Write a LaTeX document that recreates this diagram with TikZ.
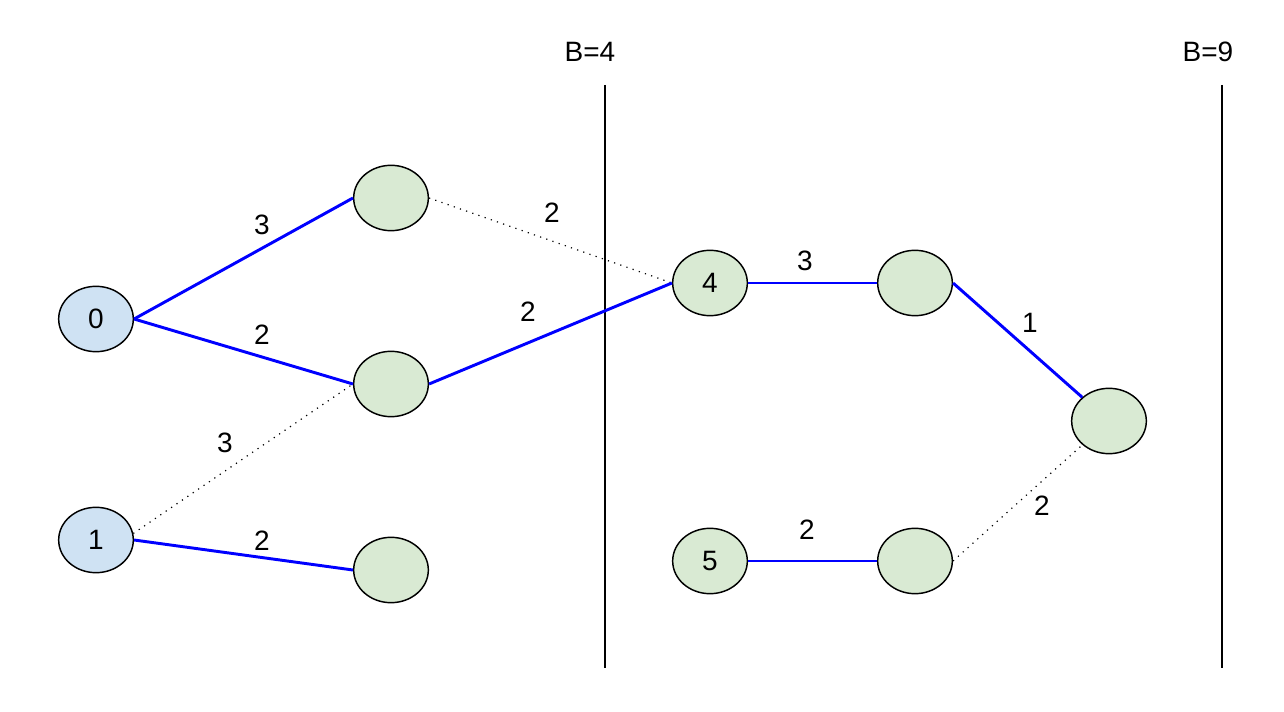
\documentclass[tikz,border=0pt]{standalone}
\usepackage{fontspec}
\setmainfont{Liberation Sans}
\usetikzlibrary{shapes.geometric}
\definecolor{nodeblue}{HTML}{CFE2F3}
\definecolor{nodegreen}{HTML}{D9EAD3}
\definecolor{edgeblue}{HTML}{0000FF}
\begin{document}
\begin{tikzpicture}[x=0.75pt,y=-0.75pt,
  vert/.style={ellipse,draw=black,line width=1.1pt,minimum width=56pt,minimum height=49pt,inner sep=0pt,font=\fontsize{21}{25}\selectfont},
  src/.style={vert,fill=nodeblue},
  gvert/.style={vert,fill=nodegreen},
  tree/.style={draw=edgeblue,line width=2.2pt},
  cand/.style={draw=black,line width=0.9pt,dash pattern=on 0.9pt off 4pt},
  wlabel/.style={font=\fontsize{21}{25}\selectfont,inner sep=0pt},
  bound/.style={draw=black,line width=1.0pt}]
\useasboundingbox (0,0) rectangle (1284,712);
% nodes
\node[src] (n0) at (96,319) {0};
\node[src] (n1) at (96,540) {1};
\node[gvert] (a) at (391,198) {};
\node[gvert] (b) at (391,384) {};
\node[gvert] (c) at (391,570) {};
\node[gvert] (n4) at (710,283) {4};
\node[gvert] (d) at (915,283) {};
\node[gvert] (e) at (1109,421) {};
\node[gvert] (n5) at (710,561) {5};
\node[gvert] (f) at (915,561) {};
% boundaries
\coordinate (l4t) at (605,85);
\coordinate (l4b) at (605,668);
\coordinate (l9t) at (1222,85);
\coordinate (l9b) at (1222,668);
\draw[bound] (l4t) -- (l4b);
\draw[bound] (l9t) -- (l9b);
\node[wlabel] (b4) at (590,52) {B=4};
\node[wlabel] (b9) at (1208,52) {B=9};
% edges
\draw[tree] (n0.east) -- (a.west);
\draw[tree] (n0.east) -- (b.west);
\draw[cand] (a.east) -- (n4.west);
\draw[tree] (b.east) -- (n4.west);
\draw[cand] (n1.10) -- (b.west);
\draw[tree] (n1.east) -- (c.west);
\draw[tree] (n4.east) -- (d.west);
\draw[tree] (d.east) -- (e);
\draw[cand] (f.east) -- (e);
\draw[tree] (n5.east) -- (f.west);
% weights
\node[wlabel] (w1) at (262,225) {3};
\node[wlabel] (w2) at (262,335) {2};
\node[wlabel] (w3) at (552,213) {2};
\node[wlabel] (w4) at (528,312) {2};
\node[wlabel] (w5) at (225,443) {3};
\node[wlabel] (w6) at (262,541) {2};
\node[wlabel] (w7) at (805,261) {3};
\node[wlabel] (w8) at (1030,323) {1};
\node[wlabel] (w9) at (1042,506) {2};
\node[wlabel] (w10) at (807,530) {2};
\end{tikzpicture}
\end{document}
